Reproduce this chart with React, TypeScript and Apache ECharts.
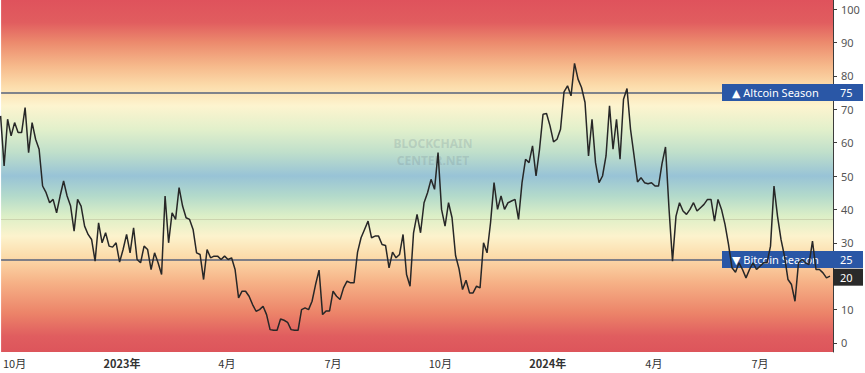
import React, { useEffect, useRef } from 'react';
import * as echarts from 'echarts';

// Altcoin Season Index, one reading every 3 days starting at seriesStart
const seriesStart = '2022-09-19';
const seriesStepDays = 3;
const altcoinIndex: number[] = [
  68, 53, 67, 62, 66, 63, 63, 70.5, 57, 66,
  61, 58, 47, 45, 42, 43, 39, 44, 48.5, 44,
  41, 33.5, 43, 41, 35, 32.5, 31, 24.5, 36, 30,
  33, 29, 28.7, 30, 24.2, 28, 32.5, 27, 34.5, 25,
  24, 29, 28, 22, 27, 24, 20.5, 44, 30, 39,
  37, 46.5, 41, 37.5, 37, 34, 27, 26.5, 19, 28,
  25.5, 26, 26, 25, 26, 25, 25.5, 22, 13.5, 15.5,
  15.5, 14, 11.5, 9.5, 10, 11, 8.5, 4, 3.8, 3.8,
  7.2, 6.8, 6.2, 4, 3.8, 3.8, 10, 10.5, 10, 12.5,
  17.5, 21.8, 8.5, 9.6, 9.6, 15.5, 14, 13, 16.5, 18.5,
  18, 18, 27.2, 31.5, 34, 36.5, 31.5, 32, 32, 29.5,
  29.2, 22.5, 27.2, 25.5, 26.5, 32.5, 20.5, 17, 33, 38.5,
  33, 42, 45, 49, 46, 57, 40, 35, 42, 37.5,
  26.2, 22.2, 16, 18.8, 15, 15, 17, 16.5, 30, 27,
  36, 48, 40, 44, 40, 42, 42.5, 43, 37, 48,
  55, 54, 59, 50, 58, 68.5, 68.7, 65, 60.2, 61,
  64, 75.2, 77, 74, 83.7, 79, 76.5, 72, 56, 67,
  54, 48, 50, 56, 71, 58, 67, 55, 73, 76.2,
  64, 56.2, 48.2, 49.5, 48, 47.7, 48, 47, 47, 53.7,
  58.7, 40.2, 24.5, 38, 42, 39.5, 38.5, 40, 42, 39.5,
  40.5, 41.5, 43, 43, 36.5, 43, 40, 35.5, 29.5, 22.5,
  21.2, 24, 22, 19.5, 22, 24, 22, 23, 24, 24,
  29, 47, 38, 31, 26, 19, 17.5, 12.5, 24, 25,
  24, 23.5, 30.5, 22, 22, 21, 19.5, 20,
];

const xAxisStart = '2022-09-19T10:00:00Z';
const xAxisEnd = '2024-09-01T14:00:00Z';
const xTickDates = ['2022-10-01', '2023-01-01', '2023-04-01', '2023-07-01', '2023-10-01', '2024-01-01', '2024-04-01', '2024-07-01'];
const xTickLabels = ['10月', '2023年', '4月', '7月', '10月', '2024年', '4月', '7月'];
const yTickValues = [0, 10, 20, 30, 40, 50, 60, 70, 80, 90, 100];

const altcoinSeasonLevel = 75;
const bitcoinSeasonLevel = 25;
const faintBandLevel = 37;
const altcoinSeasonText = '▲ Altcoin Season';
const bitcoinSeasonText = '▼ Bitcoin Season';
const watermarkLines = ['BLOCKCHAIN', 'CENTER.NET'];

const Y_MIN = -2.7;
const Y_MAX = 102.7;

const bgStops: [number, string][] = [
  [102.7, '#df525c'],
  [96, '#e15d5f'],
  [90, '#ec8a6d'],
  [83, '#f6b98b'],
  [77, '#fcdcab'],
  [71, '#fdf4cf'],
  [64, '#e2f0cb'],
  [57, '#bfdfcb'],
  [50, '#98c3d6'],
  [44, '#b3dacb'],
  [38, '#dcefc7'],
  [32, '#fcf3cd'],
  [26, '#fcdcab'],
  [18, '#f6b186'],
  [9, '#ec8469'],
  [2, '#e05d5f'],
  [-2.7, '#dd555b'],
];

const GRID_RIGHT = 32;
const GRID_BOTTOM = 21;
const BOX_BLUE = '#2a57a6';

export default function App() {
  const ref = useRef<HTMLDivElement>(null);

  useEffect(() => {
    const chart = echarts.init(ref.current!, null, { renderer: 'svg' });
    const day = 86400000;
    const t0 = Date.parse(seriesStart);
    const data = altcoinIndex.map((v, i) => [t0 + i * seriesStepDays * day, v]);
    const tickTimes = xTickDates.map((d) => Date.parse(d));

    const gradient = new echarts.graphic.LinearGradient(
      0, 0, 0, 1,
      bgStops.map(([v, c]) => ({ offset: (Y_MAX - v) / (Y_MAX - Y_MIN), color: c }))
    );

    const option: any = {
      animation: false,
      backgroundColor: '#ffffff',
      grid: {
        left: 0,
        right: GRID_RIGHT,
        top: 0,
        bottom: GRID_BOTTOM,
        show: true,
        backgroundColor: gradient,
        borderWidth: 0,
      },
      xAxis: {
        type: 'value',
        min: Date.parse(xAxisStart),
        max: Date.parse(xAxisEnd),
        axisLine: { show: false },
        axisTick: { show: false },
        splitLine: { show: false },
        axisLabel: {
          customValues: tickTimes,
          margin: 5,
          color: '#333',
          fontSize: 11,
          fontFamily: '"Noto Sans CJK SC", "Noto Sans", sans-serif',
          formatter: (val: number) => {
            const idx = tickTimes.findIndex((t) => Math.abs(t - val) < day / 2);
            const label = idx >= 0 ? xTickLabels[idx] : '';
            return label.indexOf('年') >= 0 ? '{b|' + label + '}' : label;
          },
          rich: {
            b: {
              fontWeight: 'bold',
              fontSize: 11,
              color: '#333',
              fontFamily: '"Noto Sans CJK SC", "Noto Sans", sans-serif',
            },
          },
        },
      },
      yAxis: {
        type: 'value',
        position: 'right',
        min: Y_MIN,
        max: Y_MAX,
        splitLine: { show: false },
        axisLine: { show: true, onZero: false, lineStyle: { color: '#3c3c3c', width: 1 } },
        axisTick: { show: true, length: 4, customValues: yTickValues, lineStyle: { color: '#3c3c3c' } },
        axisLabel: {
          customValues: yTickValues,
          margin: 8,
          color: '#555',
          fontSize: 11,
          fontFamily: '"Noto Sans", sans-serif',
        },
      },
      series: [
        {
          name: 'levels',
          type: 'line',
          z: 1,
          data,
          showSymbol: false,
          silent: true,
          lineStyle: { opacity: 0 },
          markLine: {
            z: 1,
            silent: true,
            symbol: 'none',
            label: { show: false },
            data: [
              { yAxis: altcoinSeasonLevel, lineStyle: { color: '#56627d', width: 1.5, type: 'solid' } },
              { yAxis: bitcoinSeasonLevel, lineStyle: { color: '#56627d', width: 1.5, type: 'solid' } },
              { yAxis: faintBandLevel, lineStyle: { color: 'rgba(165,160,130,0.35)', width: 1, type: 'solid' } },
            ],
          },
        },
        {
          name: 'Altcoin Season Index',
          type: 'line',
          z: 5,
          data,
          showSymbol: false,
          lineStyle: { color: '#272727', width: 1.5 },
        },
      ],
    };

    chart.setOption(option);

    const gridRight = chart.getWidth() - GRID_RIGHT;
    const yAlt = chart.convertToPixel({ yAxisIndex: 0 }, altcoinSeasonLevel) as number;
    const yBtc = chart.convertToPixel({ yAxisIndex: 0 }, bitcoinSeasonLevel) as number;
    const lastVal = altcoinIndex[altcoinIndex.length - 1];
    const yLast = chart.convertToPixel({ yAxisIndex: 0 }, lastVal) as number;
    const boxH = 17;
    const labelFont = '11px "Noto Sans", "DejaVu Sans", sans-serif';

    const levelBox = (y: number, text: string, value: number) => [
      {
        type: 'rect',
        z: 3,
        shape: { x: gridRight - 111, y: y - boxH / 2, width: 141, height: boxH },
        style: { fill: BOX_BLUE },
        silent: true,
      },
      {
        type: 'text',
        z: 4,
        x: gridRight - 101,
        y,
        style: { text, fill: '#ffffff', font: labelFont, align: 'left', verticalAlign: 'middle' },
        silent: true,
      },
      {
        type: 'text',
        z: 4,
        x: gridRight + 7,
        y,
        style: { text: String(value), fill: '#ffffff', font: labelFont, align: 'left', verticalAlign: 'middle' },
        silent: true,
      },
    ];

    const watermark = watermarkLines.map((line, i) => ({
      type: 'text',
      z: 2,
      x: 433,
      y: 143 + i * 17,
      style: {
        text: line,
        fill: 'rgba(110,130,140,0.24)',
        font: 'bold 12px "Noto Sans", sans-serif',
        align: 'center',
        verticalAlign: 'middle',
      },
      silent: true,
    }));

    chart.setOption({
      graphic: [
        ...levelBox(yAlt, altcoinSeasonText, altcoinSeasonLevel),
        ...levelBox(yBtc, bitcoinSeasonText, bitcoinSeasonLevel),
        {
          type: 'rect',
          z: 4,
          shape: { x: gridRight, y: yLast - boxH / 2 + 1, width: 30, height: boxH },
          style: { fill: '#2a2a2a' },
          silent: true,
        },
        {
          type: 'text',
          z: 4,
          x: gridRight + 7,
          y: yLast + 1,
          style: { text: String(Math.round(lastVal)), fill: '#ffffff', font: labelFont, align: 'left', verticalAlign: 'middle' },
          silent: true,
        },
        ...watermark,
      ],
    });

    return () => chart.dispose();
  }, []);

  return <div ref={ref} style={{ position: 'fixed', left: 0, top: 0, width: 865, height: 373 }} />;
}
